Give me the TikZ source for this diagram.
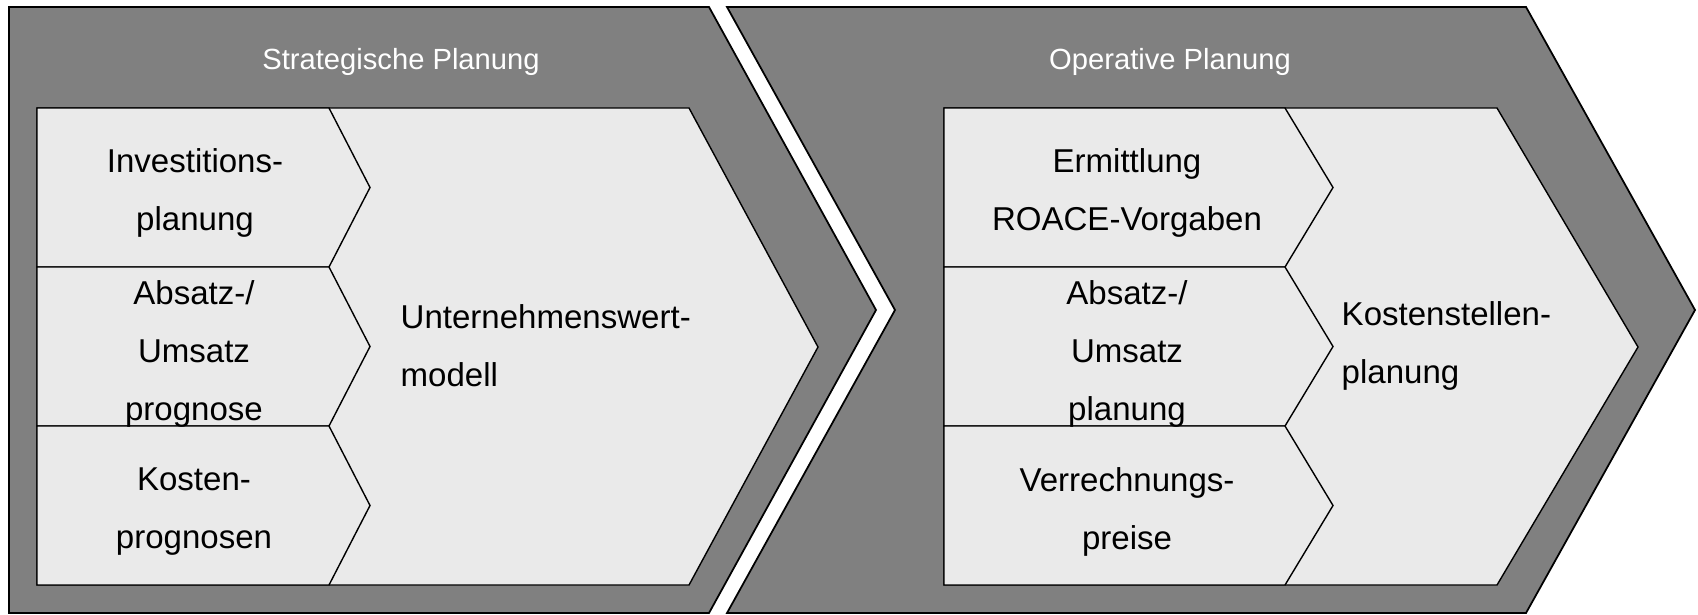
\documentclass[tikz,border=0pt]{standalone}
\usepackage{fontspec}
\setmainfont{Liberation Sans}
\usetikzlibrary{positioning}

\definecolor{chevgray}{HTML}{808080}
\definecolor{panelgray}{HTML}{EAEAEA}

\tikzset{outer/.style={draw, line width=0.5pt, fill=chevgray}}
\tikzset{panel/.style={draw, line width=0.4pt, fill=panelgray}}
\tikzset{head/.style={text=white, inner sep=0pt, font=\fontsize{8.3}{10}\selectfont}}
\tikzset{txt/.style={align=center, inner sep=0pt, font=\fontsize{9.4}{16.5}\selectfont}}

\begin{document}
\begin{tikzpicture}[]
    \useasboundingbox (0,0) rectangle (16.98,6.14);
    
    % two big chevrons
    \draw[outer] (0.09,6.07) -- (7.09,6.07) -- (8.76,3.04) -- (7.09,0.01) -- (0.09,0.01) -- cycle;
    \draw[outer] (7.27,6.07) -- (15.26,6.07) -- (16.95,3.04) -- (15.26,0.01) -- (7.27,0.01) -- (8.95,3.04) -- cycle;
    
    % inner panels
    \draw[panel] (0.37,5.06) -- (6.89,5.06) -- (8.18,2.67) -- (6.89,0.29) -- (0.37,0.29) -- cycle;
    \draw[panel] (9.44,5.06) -- (14.97,5.06) -- (16.38,2.67) -- (14.97,0.29) -- (9.44,0.29) -- cycle;
    
    \foreach \t/\b in {5.06/3.47, 3.47/1.88, 1.88/0.29}{
        \draw[panel] (0.37,\t) -- (3.29,\t) -- (3.70,{(\t+\b)/2}) -- (3.29,\b) -- (0.37,\b) -- cycle;
        \draw[panel] (9.44,\t) -- (12.85,\t) -- (13.33,{(\t+\b)/2}) -- (12.85,\b) -- (9.44,\b) -- cycle;
    }
    
    \node[head] (strat) at (4.01,5.525) {Strategische Planung};
    \node[head] (oper) at (11.70,5.525) {Operative Planung};
    
    \node[txt] (invest) at (1.95,4.215) {Investitions-\\planung};
    \node[txt] (absatz) at (1.94,2.605) {Absatz-/\\Umsatz\\prognose};
    \node[txt] (kosten) at (1.94,1.025) {Kosten-\\prognosen};
    \node[txt, anchor=west, align=left] (uwert) at (4.00,2.685) {Unternehmenswert-\\modell};
    
    \node[txt] (roace) at (11.27,4.215) {Ermittlung\\ROACE-Vorgaben};
    \node[txt] (absplan) at (11.27,2.605) {Absatz-/\\Umsatz\\planung};
    \node[txt] (verr) at (11.27,1.025) {Verrechnungs-\\preise};
    \node[txt, anchor=west, align=left] (kstelle) at (13.41,2.68) {Kostenstellen-\\planung};
    
\end{tikzpicture}
\end{document}
